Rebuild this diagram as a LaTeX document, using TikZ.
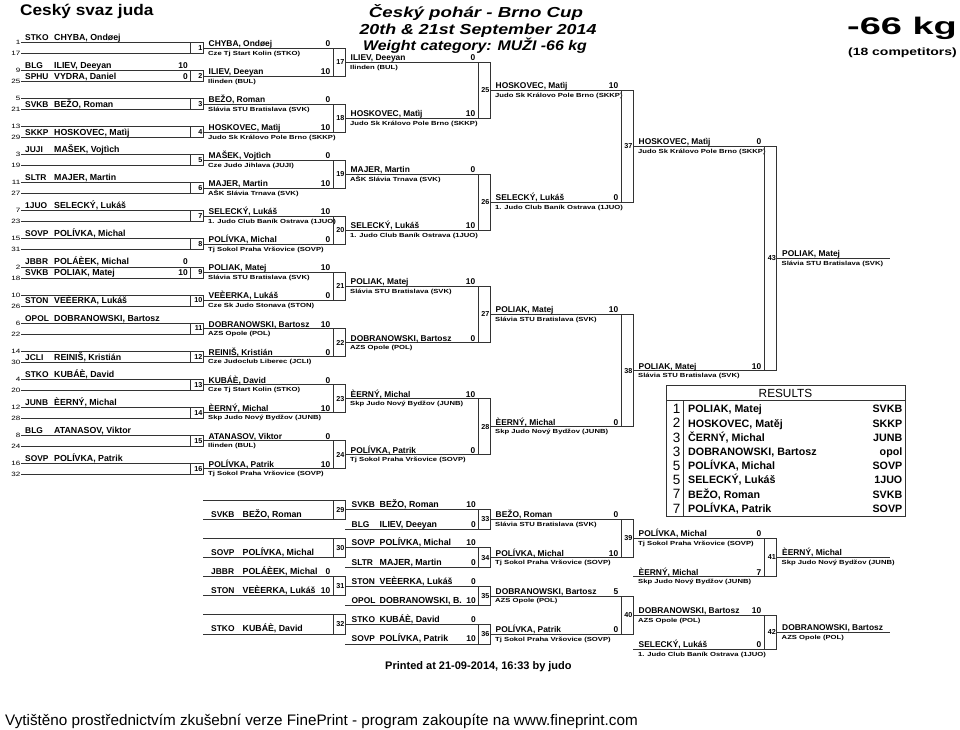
\documentclass[tikz,border=0pt]{standalone}
\usepackage{fontspec}
\usepackage{graphicx}
\setmainfont{Liberation Sans}
\newfontfamily\wfont[FakeStretch=1.3]{Liberation Sans}
\tikzset{
  ln/.style={line width=0.75pt, draw=black!80},
  nm/.style={font=\fontsize{8.4}{9}\selectfont\bfseries, inner sep=0pt, anchor=base west},
  nmb/.style={font=\fontsize{8.8}{9}\selectfont\bfseries, inner sep=0pt, anchor=base west},
  sc/.style={font=\fontsize{8.4}{9}\selectfont\bfseries, inner sep=0pt, anchor=base east},
  cl/.style={font=\wfont\bfseries\fontsize{5.9}{7}\selectfont, inner sep=0pt, anchor=base west},
  sd/.style={font=\wfont\fontsize{6.2}{7}\selectfont, inner sep=0pt, anchor=east},
  mn/.style={font=\fontsize{7.2}{8}\selectfont\bfseries, inner sep=0pt, anchor=east},
}
% #1 node name, #2 x start, #3 x end, #4 y, #5 name, #6 score, #7 club
\newcommand\plentry[7]{%
  \node[nm] (#1n) at (#2+5.5,#4-1.5) {#5};
  \node[sc] (#1s) at (#3-2.5,#4-1.5) {#6};
  \node[cl] (#1c) at (#2+5,#4+7) {#7};
}
\begin{document}
\begin{tikzpicture}[x=1pt,y=-1pt]
\useasboundingbox (0,0) rectangle (960,729);
\fill[white] (0,0) rectangle (960,729);
% ---------- headings
\node[anchor=base west,inner sep=0pt,font=\fontsize{15.4}{16}\selectfont\bfseries] (hl) at (20,15.5) {\scalebox{1.12}[1]{Ceský svaz juda}};
\node[anchor=base,inner sep=0pt,font=\fontsize{14.5}{15}\selectfont\bfseries\itshape] (t1) at (476,17.3) {\scalebox{1.29}[1]{Český pohár - Brno Cup}};
\node[anchor=base,inner sep=0pt,font=\fontsize{14.5}{15}\selectfont\bfseries\itshape] (t2) at (478,34) {\scalebox{1.23}[1]{20th \& 21st September 2014}};
\node[anchor=base,inner sep=0pt,font=\fontsize{14}{15}\selectfont\bfseries\itshape] (t3) at (475,50) {\scalebox{1.135}[1]{Weight category: MUŽI -66 kg}};
\node[anchor=base east,inner sep=0pt,font=\fontsize{24}{26}\selectfont\bfseries] (kg) at (957,34.3) {\scalebox{1.58}[1]{-66 kg}};
\node[anchor=base east,inner sep=0pt,font=\fontsize{10.5}{12}\selectfont\bfseries] (cmp) at (957,55) {\scalebox{1.33}[1]{(18 competitors)}};
% ---------- seed lines
\foreach \s [count=\i from 0] in {1,17,9,25,5,21,13,29,3,19,11,27,7,23,15,31,2,18,10,26,6,22,14,30,4,20,12,28,8,24,16,32}{
  \pgfmathsetmacro\yy{42.5+28.05*floor(\i/2)+11*mod(\i,2)}
  \draw[ln] (21,\yy) -- (190,\yy);
  \node[sd] (seed\s) at (20.5,\yy) {\s};
}
\foreach \i/\c/\n in {0/STKO/{CHYBA, Ondøej},2/BLG/{ILIEV, Deeyan},3/SPHU/{VYDRA, Daniel},5/SVKB/{BEŽO, Roman},7/SKKP/{HOSKOVEC, Matìj},8/JUJI/{MAŠEK, Vojtìch},10/SLTR/{MAJER, Martin},12/1JUO/{SELECKÝ, Lukáš},14/SOVP/{POLÍVKA, Michal},16/JBBR/{POLÁÈEK, Michal},17/SVKB/{POLIAK, Matej},19/STON/{VEÈERKA, Lukáš},20/OPOL/{DOBRANOWSKI, Bartosz},23/JCLI/{REINIŠ, Kristián},24/STKO/{KUBÁÈ, David},26/JUNB/{ÈERNÝ, Michal},28/BLG/{ATANASOV, Viktor},30/SOVP/{POLÍVKA, Patrik}}{
  \pgfmathsetmacro\yy{42.5+28.05*floor(\i/2)+11*mod(\i,2)}
  \node[nm] (c1c\i) at (25,\yy-2) {\c};
  \node[nmb] (c1n\i) at (54,\yy-2) {\n};
}
\foreach \i/\v in {2/10,3/0,16/0,17/10}{
  \pgfmathsetmacro\yy{42.5+28.05*floor(\i/2)+11*mod(\i,2)}
  \node[sc] (c1s\i) at (188,\yy-2) {\v};
}
% ---------- round 1 boxes
\foreach \k in {0,...,15}{
  \pgfmathsetmacro\ya{42.5+28.05*\k}
  \pgfmathsetmacro\yb{\ya+11}
  \pgfmathsetmacro\ym{\ya+5.5}
  \pgfmathtruncatemacro\nn{\k+1}
  \draw[ln] (190,\ya) rectangle (203,\yb);
  \node[mn] (m\nn) at (202.6,\ym) {\nn};
  \draw[ln] (203,\ym) -- (333,\ym);
}
\foreach \k/\n/\v/\c in {0/{CHYBA, Ondøej}/0/{Cze Tj Start Kolin (STKO)},1/{ILIEV, Deeyan}/10/{Ilinden (BUL)},2/{BEŽO, Roman}/0/{Slávia STU Bratislava (SVK)},3/{HOSKOVEC, Matìj}/10/{Judo Sk Královo Pole Brno (SKKP)},4/{MAŠEK, Vojtìch}/0/{Cze Judo Jihlava (JUJI)},5/{MAJER, Martin}/10/{AŠK Slávia Trnava (SVK)},6/{SELECKÝ, Lukáš}/10/{1. Judo Club Baník Ostrava (1JUO)},7/{POLÍVKA, Michal}/0/{Tj Sokol Praha Vršovice (SOVP)},8/{POLIAK, Matej}/10/{Slávia STU Bratislava (SVK)},9/{VEÈERKA, Lukáš}/0/{Cze Sk Judo Stonava (STON)},10/{DOBRANOWSKI, Bartosz}/10/{AZS Opole (POL)},11/{REINIŠ, Kristián}/0/{Cze Judoclub Liberec (JCLI)},12/{KUBÁÈ, David}/0/{Cze Tj Start Kolin (STKO)},13/{ÈERNÝ, Michal}/10/{Skp Judo Nový Bydžov (JUNB)},14/{ATANASOV, Viktor}/0/{Ilinden (BUL)},15/{POLÍVKA, Patrik}/10/{Tj Sokol Praha Vršovice (SOVP)}}{
  \pgfmathsetmacro\ym{48+28.05*\k}
  \plentry{e2-\k}{203}{333}{\ym}{\n}{\v}{\c}
}
% ---------- round 2 boxes
\foreach \j in {0,...,7}{
  \pgfmathsetmacro\ya{48+56.1*\j}
  \pgfmathsetmacro\yb{\ya+28.05}
  \pgfmathsetmacro\ym{\ya+14.025}
  \pgfmathtruncatemacro\nn{\j+17}
  \draw[ln] (333,\ya) rectangle (345,\yb);
  \node[mn] (m\nn) at (344.6,\ym) {\nn};
  \draw[ln] (345,\ym) -- (478,\ym);
}
\foreach \k/\n/\v/\c in {0/{ILIEV, Deeyan}/0/{Ilinden (BUL)},1/{HOSKOVEC, Matìj}/10/{Judo Sk Královo Pole Brno (SKKP)},2/{MAJER, Martin}/0/{AŠK Slávia Trnava (SVK)},3/{SELECKÝ, Lukáš}/10/{1. Judo Club Baník Ostrava (1JUO)},4/{POLIAK, Matej}/10/{Slávia STU Bratislava (SVK)},5/{DOBRANOWSKI, Bartosz}/0/{AZS Opole (POL)},6/{ÈERNÝ, Michal}/10/{Skp Judo Nový Bydžov (JUNB)},7/{POLÍVKA, Patrik}/0/{Tj Sokol Praha Vršovice (SOVP)}}{
  \pgfmathsetmacro\ym{62.025+56.1*\k}
  \plentry{e3-\k}{345}{478}{\ym}{\n}{\v}{\c}
}
% ---------- round 3 boxes
\foreach \j in {0,...,3}{
  \pgfmathsetmacro\ya{62.025+112.2*\j}
  \pgfmathsetmacro\yb{\ya+56.1}
  \pgfmathsetmacro\ym{\ya+28.05}
  \pgfmathtruncatemacro\nn{\j+25}
  \draw[ln] (478,\ya) rectangle (490,\yb);
  \node[mn] (m\nn) at (489.6,\ym) {\nn};
  \draw[ln] (490,\ym) -- (621,\ym);
}
\foreach \k/\n/\v/\c in {0/{HOSKOVEC, Matìj}/10/{Judo Sk Královo Pole Brno (SKKP)},1/{SELECKÝ, Lukáš}/0/{1. Judo Club Baník Ostrava (1JUO)},2/{POLIAK, Matej}/10/{Slávia STU Bratislava (SVK)},3/{ÈERNÝ, Michal}/0/{Skp Judo Nový Bydžov (JUNB)}}{
  \pgfmathsetmacro\ym{90.075+112.2*\k}
  \plentry{e4-\k}{490}{621}{\ym}{\n}{\v}{\c}
}
% ---------- semifinal boxes
\foreach \j in {0,1}{
  \pgfmathsetmacro\ya{90.075+224.4*\j}
  \pgfmathsetmacro\yb{\ya+112.2}
  \pgfmathsetmacro\ym{\ya+56.1}
  \pgfmathtruncatemacro\nn{\j+37}
  \draw[ln] (621,\ya) rectangle (633,\yb);
  \node[mn] (m\nn) at (632.6,\ym) {\nn};
  \draw[ln] (633,\ym) -- (764,\ym);
}
\plentry{e5-0}{633}{764}{146.175}{HOSKOVEC, Matìj}{0}{Judo Sk Královo Pole Brno (SKKP)}
\plentry{e5-1}{633}{764}{370.575}{POLIAK, Matej}{10}{Slávia STU Bratislava (SVK)}
% ---------- final
\draw[ln] (764,146.175) rectangle (776.5,370.575);
\node[mn] (m43) at (776,258.375) {43};
\draw[ln] (776.5,258.375) -- (890,258.375);
\plentry{e6}{776.5}{890}{258.375}{POLIAK, Matej}{}{Slávia STU Bratislava (SVK)}
% ---------- repechage
\foreach \i in {0,...,7}{
  \pgfmathsetmacro\yy{500+19.14*\i}
  \draw[ln] (203,\yy) -- (333,\yy);
}
\foreach \j in {0,...,3}{
  \pgfmathsetmacro\ya{500+38.28*\j}
  \pgfmathsetmacro\yb{\ya+19.14}
  \pgfmathsetmacro\ym{\ya+9.57}
  \pgfmathsetmacro\yc{\ym+19.5}
  \pgfmathsetmacro\yd{\ym+9.75}
  \pgfmathtruncatemacro\nn{\j+29}
  \pgfmathtruncatemacro\nm{\j+33}
  \draw[ln] (333,\ya) rectangle (345,\yb);
  \node[mn] (m\nn) at (344.6,\ym) {\nn};
  \draw[ln] (345,\ym) -- (478,\ym);
  \draw[ln] (345,\yc) -- (478,\yc);
  \draw[ln] (478,\ym) rectangle (490,\yc);
  \node[mn] (m\nm) at (489.6,\yd) {\nm};
  \draw[ln] (490,\yd) -- (621,\yd);
}
\foreach \j/\yl in {0/576.5,1/649}{
  \pgfmathsetmacro\ya{519.32+76.56*\j}
  \pgfmathsetmacro\yb{\ya+38.28}
  \pgfmathsetmacro\ym{\ya+19.14}
  \pgfmathsetmacro\yf{(\ym+\yl)/2}
  \pgfmathtruncatemacro\nn{\j+39}
  \pgfmathtruncatemacro\nm{\j+41}
  \draw[ln] (621,\ya) rectangle (633,\yb);
  \node[mn] (m\nn) at (632.6,\ym) {\nn};
  \draw[ln] (633,\ym) -- (764,\ym);
  \draw[ln] (633,\yl) -- (764,\yl);
  \draw[ln] (764,\ym) rectangle (776.5,\yl);
  \node[mn] (m\nm) at (776,\yf) {\nm};
  \draw[ln] (776.5,\yf) -- (890,\yf);
}
% repechage names column 2
\foreach \y/\c/\n in {519.14/SVKB/{BEŽO, Roman},557.42/SOVP/{POLÍVKA, Michal},576.56/JBBR/{POLÁÈEK, Michal},595.7/STON/{VEÈERKA, Lukáš},633.98/STKO/{KUBÁÈ, David}}{
  \node[nm] (r2c\y) at (211,\y-2) {\c};
  \node[nmb] (r2n\y) at (242.5,\y-2) {\n};
}
\node[sc] (r2s1) at (330.5,574.56) {0};
\node[sc] (r2s2) at (330.5,593.7) {10};
% repechage column 3
\foreach \y/\c/\n/\v in {509.57/SVKB/{BEŽO, Roman}/10,529.07/BLG/{ILIEV, Deeyan}/0,547.85/SOVP/{POLÍVKA, Michal}/10,567.35/SLTR/{MAJER, Martin}/0,586.13/STON/{VEÈERKA, Lukáš}/0,605.63/OPOL/{DOBRANOWSKI, B.}/10,624.41/STKO/{KUBÁÈ, David}/0,643.91/SOVP/{POLÍVKA, Patrik}/10}{
  \node[nm] (r3c\y) at (351.5,\y-2) {\c};
  \node[nmb] (r3n\y) at (379.5,\y-2) {\n};
  \node[sc] (r3s\y) at (476,\y-2) {\v};
}
\plentry{r4a}{490}{621}{519.32}{BEŽO, Roman}{0}{Slávia STU Bratislava (SVK)}
\plentry{r4b}{490}{621}{557.6}{POLÍVKA, Michal}{10}{Tj Sokol Praha Vršovice (SOVP)}
\plentry{r4c}{490}{621}{595.88}{DOBRANOWSKI, Bartosz}{5}{AZS Opole (POL)}
\plentry{r4d}{490}{621}{634.16}{POLÍVKA, Patrik}{0}{Tj Sokol Praha Vršovice (SOVP)}
\plentry{r5a}{633}{764}{538.46}{POLÍVKA, Michal}{0}{Tj Sokol Praha Vršovice (SOVP)}
\plentry{r5b}{633}{764}{576.5}{ÈERNÝ, Michal}{7}{Skp Judo Nový Bydžov (JUNB)}
\plentry{r5c}{633}{764}{615.02}{DOBRANOWSKI, Bartosz}{10}{AZS Opole (POL)}
\plentry{r5d}{633}{764}{649}{SELECKÝ, Lukáš}{0}{1. Judo Club Baník Ostrava (1JUO)}
\plentry{r6a}{776.5}{890}{557.48}{ÈERNÝ, Michal}{}{Skp Judo Nový Bydžov (JUNB)}
\plentry{r6b}{776.5}{890}{632.01}{DOBRANOWSKI, Bartosz}{}{AZS Opole (POL)}
% ---------- results
\draw[ln] (666,385) rectangle (905,516);
\draw[ln] (666,400.7) -- (905,400.7);
\draw[ln] (683,400.7) -- (683,516);
\node[font=\fontsize{11.8}{13}\selectfont, inner sep=0pt] (res) at (785.5,393) {RESULTS};
\foreach \p/\n/\c [count=\i from 0] in {1/{POLIAK, Matej}/SVKB,2/{HOSKOVEC, Matěj}/SKKP,3/{ČERNÝ, Michal}/JUNB,3/{DOBRANOWSKI, Bartosz}/opol,5/{POLÍVKA, Michal}/SOVP,5/{SELECKÝ, Lukáš}/1JUO,7/{BEŽO, Roman}/SVKB,7/{POLÍVKA, Patrik}/SOVP}{
  \pgfmathsetmacro\yy{409+14.2*\i}
  \node[anchor=east,inner sep=0pt,font=\fontsize{13.5}{14}\selectfont] (rp\i) at (680.5,\yy) {\p};
  \node[anchor=base west,inner sep=0pt,font=\fontsize{10.7}{12}\selectfont\bfseries] (rn\i) at (688,\yy+3.85) {\n};
  \node[anchor=base east,inner sep=0pt,font=\fontsize{10.7}{12}\selectfont\bfseries] (rc\i) at (902.5,\yy+3.85) {\c};
}
% ---------- footer texts
\node[anchor=base west,inner sep=0pt,font=\fontsize{11}{12}\selectfont\bfseries] (pr) at (385,669) {Printed at 21-09-2014, 16:33 by judo};
\node[anchor=base west,inner sep=0pt,font=\fontsize{15.25}{16}\selectfont] (foot) at (5,725) {Vytištěno prostřednictvím zkušební verze FinePrint - program zakoupíte na www.fineprint.com};
\end{tikzpicture}
\end{document}
